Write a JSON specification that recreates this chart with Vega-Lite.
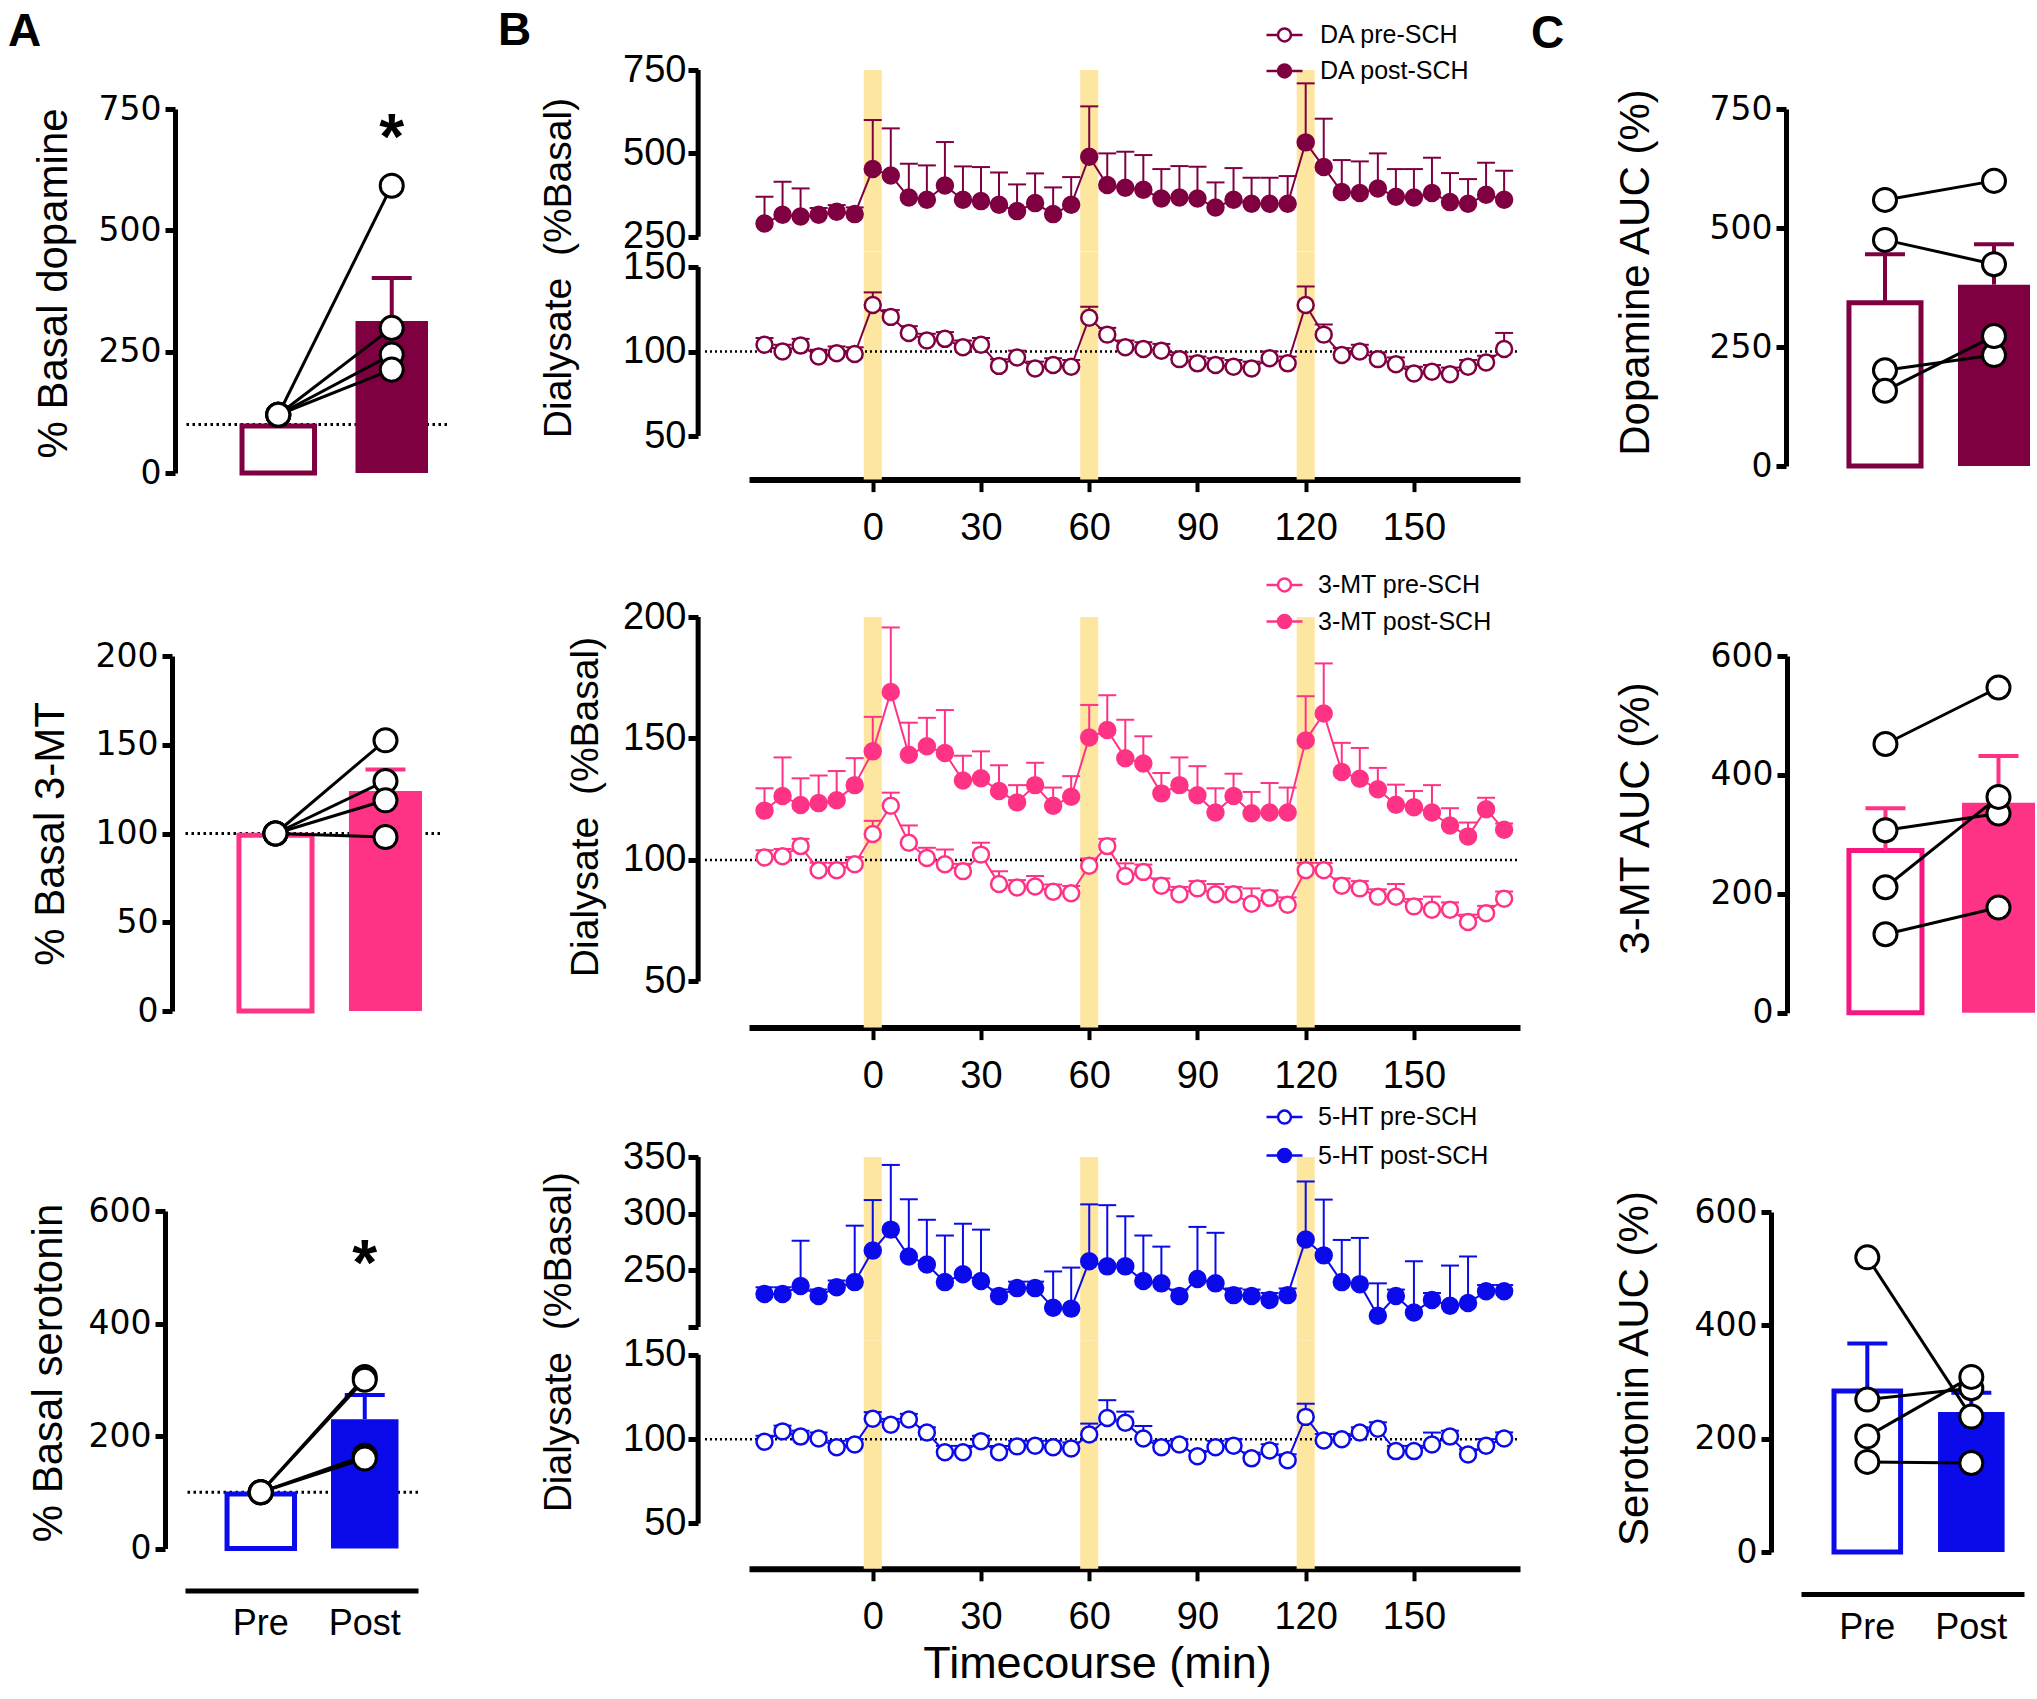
{
"$schema": "https://vega.github.io/schema/vega-lite/v6.json",
"background": "white",
"padding": {"left": 8, "top": 8, "right": 0, "bottom": 0},
"config": {"view": {"stroke": null}, "axis": {"grid": false}, "legend": {"symbolOpacity": 1}},
"datasets": {
"bands": [{"s": -2.5, "e": 2.5}, {"s": 57.5, "e": 62.5}, {"s": 117.5, "e": 122.5}],
"da_post": [
{"t":-30,"v":290,"e":370,"series":"DA post-SCH"},{"t":-25,"v":316,"e":415,"series":"DA post-SCH"},{"t":-20,"v":311,"e":395,"series":"DA post-SCH"},{"t":-15,"v":316,"e":336,"series":"DA post-SCH"},{"t":-10,"v":325,"e":345,"series":"DA post-SCH"},{"t":-5,"v":318,"e":338,"series":"DA post-SCH"},
{"t":0,"v":453,"e":600,"series":"DA post-SCH"},{"t":5,"v":434,"e":575,"series":"DA post-SCH"},{"t":10,"v":368,"e":469,"series":"DA post-SCH"},{"t":15,"v":361,"e":464,"series":"DA post-SCH"},{"t":20,"v":404,"e":534,"series":"DA post-SCH"},{"t":25,"v":361,"e":461,"series":"DA post-SCH"},
{"t":30,"v":357,"e":459,"series":"DA post-SCH"},{"t":35,"v":346,"e":443,"series":"DA post-SCH"},{"t":40,"v":327,"e":407,"series":"DA post-SCH"},{"t":45,"v":351,"e":440,"series":"DA post-SCH"},{"t":50,"v":318,"e":398,"series":"DA post-SCH"},{"t":55,"v":346,"e":429,"series":"DA post-SCH"},
{"t":60,"v":490,"e":641,"series":"DA post-SCH"},{"t":65,"v":405,"e":500,"series":"DA post-SCH"},{"t":70,"v":397,"e":505,"series":"DA post-SCH"},{"t":75,"v":391,"e":495,"series":"DA post-SCH"},{"t":80,"v":365,"e":453,"series":"DA post-SCH"},{"t":85,"v":368,"e":462,"series":"DA post-SCH"},
{"t":90,"v":365,"e":460,"series":"DA post-SCH"},{"t":95,"v":338,"e":413,"series":"DA post-SCH"},{"t":100,"v":361,"e":456,"series":"DA post-SCH"},{"t":105,"v":349,"e":427,"series":"DA post-SCH"},{"t":110,"v":349,"e":427,"series":"DA post-SCH"},{"t":115,"v":349,"e":432,"series":"DA post-SCH"},
{"t":120,"v":533,"e":710,"series":"DA post-SCH"},{"t":125,"v":459,"e":604,"series":"DA post-SCH"},{"t":130,"v":384,"e":480,"series":"DA post-SCH"},{"t":135,"v":381,"e":476,"series":"DA post-SCH"},{"t":140,"v":395,"e":500,"series":"DA post-SCH"},{"t":145,"v":370,"e":453,"series":"DA post-SCH"},
{"t":150,"v":368,"e":453,"series":"DA post-SCH"},{"t":155,"v":381,"e":487,"series":"DA post-SCH"},{"t":160,"v":354,"e":441,"series":"DA post-SCH"},{"t":165,"v":349,"e":423,"series":"DA post-SCH"},{"t":170,"v":376,"e":472,"series":"DA post-SCH"},{"t":175,"v":361,"e":448,"series":"DA post-SCH"}],
"da_pre": [
{"t":-30,"v":104,"e":108},{"t":-25,"v":100,"e":104},{"t":-20,"v":103.5,"e":107.5},{"t":-15,"v":97,"e":101},{"t":-10,"v":99,"e":103},{"t":-5,"v":98.5,"e":102.5},
{"t":0,"v":127.5,"e":135},{"t":5,"v":120.5,"e":124.5},{"t":10,"v":111,"e":115},{"t":15,"v":106.5,"e":110.5},{"t":20,"v":107.5,"e":111.5},{"t":25,"v":102.5,"e":106.5},
{"t":30,"v":104,"e":108},{"t":35,"v":91.5,"e":95.5},{"t":40,"v":96.5,"e":100.5},{"t":45,"v":90,"e":94},{"t":50,"v":92,"e":96},{"t":55,"v":91,"e":95},
{"t":60,"v":120,"e":126.5},{"t":65,"v":110,"e":114},{"t":70,"v":102.5,"e":106.5},{"t":75,"v":101.5,"e":105.5},{"t":80,"v":100.5,"e":104.5},{"t":85,"v":95.5,"e":99.5},
{"t":90,"v":93,"e":97},{"t":95,"v":92,"e":96},{"t":100,"v":91,"e":95},{"t":105,"v":90,"e":94},{"t":110,"v":96,"e":100},{"t":115,"v":93,"e":97},
{"t":120,"v":127.5,"e":138.5},{"t":125,"v":110,"e":116},{"t":130,"v":98,"e":102},{"t":135,"v":100,"e":104},{"t":140,"v":95.5,"e":99.5},{"t":145,"v":92.5,"e":96.5},
{"t":150,"v":87,"e":91},{"t":155,"v":88,"e":92},{"t":160,"v":86.5,"e":90.5},{"t":165,"v":91,"e":95},{"t":170,"v":93.5,"e":97.5},{"t":175,"v":101.5,"e":111}],
"mt_post": [
{"t":-30,"v":120.3,"e":129.5,"series":"3-MT post-SCH"},{"t":-25,"v":126.3,"e":142.2,"series":"3-MT post-SCH"},{"t":-20,"v":122.6,"e":133.6,"series":"3-MT post-SCH"},{"t":-15,"v":123.4,"e":134.8,"series":"3-MT post-SCH"},{"t":-10,"v":124.6,"e":136.6,"series":"3-MT post-SCH"},{"t":-5,"v":130.8,"e":141.9,"series":"3-MT post-SCH"},
{"t":0,"v":144.7,"e":158.9,"series":"3-MT post-SCH"},{"t":5,"v":169.1,"e":195.7,"series":"3-MT post-SCH"},{"t":10,"v":143.3,"e":156.5,"series":"3-MT post-SCH"},{"t":15,"v":146.8,"e":158.5,"series":"3-MT post-SCH"},{"t":20,"v":144,"e":161.7,"series":"3-MT post-SCH"},{"t":25,"v":132.7,"e":142.9,"series":"3-MT post-SCH"},
{"t":30,"v":133.6,"e":144.7,"series":"3-MT post-SCH"},{"t":35,"v":128.4,"e":139,"series":"3-MT post-SCH"},{"t":40,"v":123.7,"e":130.8,"series":"3-MT post-SCH"},{"t":45,"v":130.8,"e":140,"series":"3-MT post-SCH"},{"t":50,"v":122.3,"e":129.8,"series":"3-MT post-SCH"},{"t":55,"v":126,"e":134.5,"series":"3-MT post-SCH"},
{"t":60,"v":150.4,"e":163.8,"series":"3-MT post-SCH"},{"t":65,"v":153.5,"e":167.8,"series":"3-MT post-SCH"},{"t":70,"v":141.9,"e":157.7,"series":"3-MT post-SCH"},{"t":75,"v":139.7,"e":150.9,"series":"3-MT post-SCH"},{"t":80,"v":127.4,"e":135.8,"series":"3-MT post-SCH"},{"t":85,"v":130.8,"e":142.2,"series":"3-MT post-SCH"},
{"t":90,"v":126.6,"e":138.6,"series":"3-MT post-SCH"},{"t":95,"v":119.5,"e":129.5,"series":"3-MT post-SCH"},{"t":100,"v":126.3,"e":135.5,"series":"3-MT post-SCH"},{"t":105,"v":119.2,"e":128,"series":"3-MT post-SCH"},{"t":110,"v":119.5,"e":131.7,"series":"3-MT post-SCH"},{"t":115,"v":119.5,"e":129.8,"series":"3-MT post-SCH"},
{"t":120,"v":149.2,"e":167.4,"series":"3-MT post-SCH"},{"t":125,"v":160.3,"e":180.9,"series":"3-MT post-SCH"},{"t":130,"v":136.2,"e":148.2,"series":"3-MT post-SCH"},{"t":135,"v":133.4,"e":146.1,"series":"3-MT post-SCH"},{"t":140,"v":129.1,"e":137.9,"series":"3-MT post-SCH"},{"t":145,"v":122.7,"e":131,"series":"3-MT post-SCH"},
{"t":150,"v":121.7,"e":128.4,"series":"3-MT post-SCH"},{"t":155,"v":119.5,"e":130.8,"series":"3-MT post-SCH"},{"t":160,"v":114.2,"e":121.3,"series":"3-MT post-SCH"},{"t":165,"v":109.7,"e":115.4,"series":"3-MT post-SCH"},{"t":170,"v":120.9,"e":125.6,"series":"3-MT post-SCH"},{"t":175,"v":112.4,"e":115,"series":"3-MT post-SCH"}],
"mt_pre": [
{"t":-30,"v":101,"e":104,"series":"3-MT pre-SCH"},{"t":-25,"v":101.5,"e":104.5,"series":"3-MT pre-SCH"},{"t":-20,"v":105.7,"e":108.7,"series":"3-MT pre-SCH"},{"t":-15,"v":95.8,"e":98.8,"series":"3-MT pre-SCH"},{"t":-10,"v":95.8,"e":98.8,"series":"3-MT pre-SCH"},{"t":-5,"v":98.2,"e":101.2,"series":"3-MT pre-SCH"},
{"t":0,"v":110.7,"e":116.1,"series":"3-MT pre-SCH"},{"t":5,"v":122.3,"e":127.7,"series":"3-MT pre-SCH"},{"t":10,"v":107.1,"e":114.2,"series":"3-MT pre-SCH"},{"t":15,"v":100.8,"e":105,"series":"3-MT pre-SCH"},{"t":20,"v":98.2,"e":104.3,"series":"3-MT pre-SCH"},{"t":25,"v":95.4,"e":98.4,"series":"3-MT pre-SCH"},
{"t":30,"v":102.2,"e":107.1,"series":"3-MT pre-SCH"},{"t":35,"v":90.1,"e":95.4,"series":"3-MT pre-SCH"},{"t":40,"v":88.7,"e":91.7,"series":"3-MT pre-SCH"},{"t":45,"v":89.1,"e":93.4,"series":"3-MT pre-SCH"},{"t":50,"v":86.9,"e":89.9,"series":"3-MT pre-SCH"},{"t":55,"v":86.3,"e":89.3,"series":"3-MT pre-SCH"},
{"t":60,"v":97.6,"e":100.6,"series":"3-MT pre-SCH"},{"t":65,"v":105.7,"e":108.7,"series":"3-MT pre-SCH"},{"t":70,"v":93.4,"e":98.6,"series":"3-MT pre-SCH"},{"t":75,"v":95.1,"e":98.1,"series":"3-MT pre-SCH"},{"t":80,"v":89.4,"e":92.4,"series":"3-MT pre-SCH"},{"t":85,"v":85.9,"e":88.9,"series":"3-MT pre-SCH"},
{"t":90,"v":88.3,"e":91.3,"series":"3-MT pre-SCH"},{"t":95,"v":85.9,"e":90.1,"series":"3-MT pre-SCH"},{"t":100,"v":85.9,"e":88.9,"series":"3-MT pre-SCH"},{"t":105,"v":82,"e":88.3,"series":"3-MT pre-SCH"},{"t":110,"v":84.4,"e":87.4,"series":"3-MT pre-SCH"},{"t":115,"v":81.6,"e":84.6,"series":"3-MT pre-SCH"},
{"t":120,"v":95.8,"e":98.8,"series":"3-MT pre-SCH"},{"t":125,"v":95.8,"e":98.8,"series":"3-MT pre-SCH"},{"t":130,"v":89.4,"e":92.4,"series":"3-MT pre-SCH"},{"t":135,"v":88.3,"e":91.3,"series":"3-MT pre-SCH"},{"t":140,"v":84.9,"e":87.9,"series":"3-MT pre-SCH"},{"t":145,"v":84.9,"e":90.1,"series":"3-MT pre-SCH"},
{"t":150,"v":80.9,"e":83.9,"series":"3-MT pre-SCH"},{"t":155,"v":79.5,"e":84.9,"series":"3-MT pre-SCH"},{"t":160,"v":79.5,"e":82.5,"series":"3-MT pre-SCH"},{"t":165,"v":74.5,"e":77.5,"series":"3-MT pre-SCH"},{"t":170,"v":78.1,"e":81.1,"series":"3-MT pre-SCH"},{"t":175,"v":84,"e":87,"series":"3-MT pre-SCH"}],
"ht_post": [
{"t":-30,"v":229.1,"e":235,"series":"5-HT post-SCH"},{"t":-25,"v":229.1,"e":235,"series":"5-HT post-SCH"},{"t":-20,"v":236.1,"e":276.1,"series":"5-HT post-SCH"},{"t":-15,"v":227.4,"e":233,"series":"5-HT post-SCH"},{"t":-10,"v":235,"e":241,"series":"5-HT post-SCH"},{"t":-5,"v":239.6,"e":289.4,"series":"5-HT post-SCH"},
{"t":0,"v":267.4,"e":312,"series":"5-HT post-SCH"},{"t":5,"v":285.9,"e":343,"series":"5-HT post-SCH"},{"t":10,"v":262.2,"e":312.7,"series":"5-HT post-SCH"},{"t":15,"v":255.2,"e":294.6,"series":"5-HT post-SCH"},{"t":20,"v":239.6,"e":280.7,"series":"5-HT post-SCH"},{"t":25,"v":246.5,"e":291.1,"series":"5-HT post-SCH"},
{"t":30,"v":240.6,"e":285.9,"series":"5-HT post-SCH"},{"t":35,"v":227.4,"e":233,"series":"5-HT post-SCH"},{"t":40,"v":234.3,"e":240,"series":"5-HT post-SCH"},{"t":45,"v":234.3,"e":240,"series":"5-HT post-SCH"},{"t":50,"v":216.9,"e":249,"series":"5-HT post-SCH"},{"t":55,"v":216.2,"e":252.4,"series":"5-HT post-SCH"},
{"t":60,"v":258,"e":308.2,"series":"5-HT post-SCH"},{"t":65,"v":253.5,"e":307.5,"series":"5-HT post-SCH"},{"t":70,"v":253.5,"e":297.7,"series":"5-HT post-SCH"},{"t":75,"v":240.6,"e":280.7,"series":"5-HT post-SCH"},{"t":80,"v":238.5,"e":270.9,"series":"5-HT post-SCH"},{"t":85,"v":227.4,"e":233,"series":"5-HT post-SCH"},
{"t":90,"v":242.3,"e":288.3,"series":"5-HT post-SCH"},{"t":95,"v":238.5,"e":283.1,"series":"5-HT post-SCH"},{"t":100,"v":228.1,"e":234,"series":"5-HT post-SCH"},{"t":105,"v":227.4,"e":233,"series":"5-HT post-SCH"},{"t":110,"v":223.9,"e":230,"series":"5-HT post-SCH"},{"t":115,"v":228.1,"e":234,"series":"5-HT post-SCH"},
{"t":120,"v":277.2,"e":328.4,"series":"5-HT post-SCH"},{"t":125,"v":263.2,"e":312.4,"series":"5-HT post-SCH"},{"t":130,"v":239.6,"e":276.8,"series":"5-HT post-SCH"},{"t":135,"v":237.8,"e":278.6,"series":"5-HT post-SCH"},{"t":140,"v":209.9,"e":238.5,"series":"5-HT post-SCH"},{"t":145,"v":227.4,"e":233,"series":"5-HT post-SCH"},
{"t":150,"v":212.7,"e":258,"series":"5-HT post-SCH"},{"t":155,"v":223.9,"e":230,"series":"5-HT post-SCH"},{"t":160,"v":218.7,"e":254.2,"series":"5-HT post-SCH"},{"t":165,"v":221.1,"e":262.2,"series":"5-HT post-SCH"},{"t":170,"v":231.5,"e":237,"series":"5-HT post-SCH"},{"t":175,"v":231.5,"e":237,"series":"5-HT post-SCH"}],
"ht_pre": [
{"t":-30,"v":98.5,"e":102},{"t":-25,"v":104.6,"e":108},{"t":-20,"v":101.5,"e":105},{"t":-15,"v":100.4,"e":104},{"t":-10,"v":95.2,"e":99},{"t":-5,"v":96.8,"e":100},
{"t":0,"v":112.1,"e":116},{"t":5,"v":108.5,"e":112},{"t":10,"v":111.6,"e":115},{"t":15,"v":103.9,"e":107},{"t":20,"v":92.2,"e":96},{"t":25,"v":92.2,"e":96},
{"t":30,"v":98.7,"e":102},{"t":35,"v":92.2,"e":96},{"t":40,"v":95.7,"e":99},{"t":45,"v":96.1,"e":99},{"t":50,"v":95.2,"e":99},{"t":55,"v":94.5,"e":98},
{"t":60,"v":102.7,"e":109.2},{"t":65,"v":112.5,"e":123.1},{"t":70,"v":109.7,"e":116.3},{"t":75,"v":100.4,"e":107.8},{"t":80,"v":95.2,"e":99},{"t":85,"v":96.8,"e":100},
{"t":90,"v":89.8,"e":93},{"t":95,"v":95.2,"e":99},{"t":100,"v":96.1,"e":100},{"t":105,"v":88.6,"e":92},{"t":110,"v":93.3,"e":97},{"t":115,"v":87.5,"e":91},
{"t":120,"v":113.2,"e":121},{"t":125,"v":99.2,"e":103},{"t":130,"v":99.9,"e":103},{"t":135,"v":103.9,"e":107},{"t":140,"v":106.2,"e":110},{"t":145,"v":92.9,"e":96},
{"t":150,"v":92.9,"e":96},{"t":155,"v":96.8,"e":103.9},{"t":160,"v":101.5,"e":105},{"t":165,"v":90.9,"e":94},{"t":170,"v":96.1,"e":100},{"t":175,"v":100.4,"e":104}]
},
"hconcat": [
{"hconcat": [
{"vconcat": [
{"width": 1, "height": 38.4, "data": {"values": [{}]}, "mark": {"type": "text", "text": ""}, "encoding": {}},
{"width": 262, "height": 364,
"title": {"text": "A", "anchor": "start", "frame": "group", "font": "Liberation Sans", "fontSize": 46, "fontWeight": "bold", "color": "black", "baseline": "alphabetic", "offset": 0.8, "dx": -177},
"layer": [
{"data": {"values": [{}]}, "mark": {"type": "rule", "color": "black", "strokeWidth": 3, "strokeDash": [2.5, 3.5]}, "encoding": {"y": {"datum": 100, "type": "quantitative", "scale": {"domain": [0, 750], "nice": false}}}},
{"data": {"values": [{"cond": "Pre", "v": 97}]}, "mark": {"type": "bar", "fill": "white", "stroke": "#7F0041", "strokeWidth": 5}, "encoding": {"x": {"field": "cond", "type": "nominal", "scale": {"type": "band", "domain": ["Pre", "Post"], "paddingInner": 0.361, "paddingOuter": 0.335, "align": 0.75}, "axis": null}, "y": {"field": "v", "type": "quantitative", "scale": {"domain": [0, 750], "nice": false}, "axis": {"values": [0, 250, 500, 750], "offset": 10, "domainWidth": 5, "domainColor": "black", "tickSize": 10, "tickWidth": 5, "tickColor": "black", "labelFont": "DejaVu Sans", "labelFontSize": 33, "labelColor": "black", "labelPadding": 4, "title": "% Basal dopamine", "titleFont": "Liberation Sans", "titleFontSize": 42, "titleFontWeight": "normal", "titleColor": "black", "titlePadding": 23, "titleY": 174}}}},
{"data": {"values": [{"cond": "Post", "v": 313}]}, "mark": {"type": "bar", "fill": "#7F0041"}, "encoding": {"x": {"field": "cond", "type": "nominal", "scale": {"type": "band", "domain": ["Pre", "Post"], "paddingInner": 0.361, "paddingOuter": 0.335, "align": 0.75}, "axis": null}, "y": {"field": "v", "type": "quantitative", "scale": {"domain": [0, 750], "nice": false}}}},
{"data": {"values": [{"cond": "Post", "v": 313, "e": 402}]}, "mark": {"type": "rule", "color": "#7F0041", "strokeWidth": 4}, "encoding": {"x": {"field": "cond", "type": "nominal", "scale": {"type": "band", "domain": ["Pre", "Post"], "paddingInner": 0.361, "paddingOuter": 0.335, "align": 0.75}, "axis": null}, "y": {"field": "v", "type": "quantitative", "scale": {"domain": [0, 750], "nice": false}}, "y2": {"field": "e"}}},
{"data": {"values": [{"cond": "Post", "e": 402}]}, "mark": {"type": "tick", "orient": "horizontal", "size": 40, "thickness": 4, "color": "#7F0041", "opacity": 1}, "encoding": {"x": {"field": "cond", "type": "nominal", "scale": {"type": "band", "domain": ["Pre", "Post"], "paddingInner": 0.361, "paddingOuter": 0.335, "align": 0.75}, "axis": null}, "y": {"field": "e", "type": "quantitative", "scale": {"domain": [0, 750], "nice": false}}}},
{"data": {"values": [{"id": 1, "cond": "Pre", "v": 120}, {"id": 1, "cond": "Post", "v": 592}, {"id": 2, "cond": "Pre", "v": 120}, {"id": 2, "cond": "Post", "v": 299}, {"id": 3, "cond": "Pre", "v": 120}, {"id": 3, "cond": "Post", "v": 244}, {"id": 4, "cond": "Pre", "v": 120}, {"id": 4, "cond": "Post", "v": 213}]}, "mark": {"type": "line", "color": "black", "strokeWidth": 3}, "encoding": {"x": {"field": "cond", "type": "nominal", "scale": {"type": "band", "domain": ["Pre", "Post"], "paddingInner": 0.361, "paddingOuter": 0.335, "align": 0.75}, "axis": null}, "y": {"field": "v", "type": "quantitative", "scale": {"domain": [0, 750], "nice": false}}, "detail": {"field": "id", "type": "nominal"}}},
{"data": {"values": [{"id": 1, "cond": "Pre", "v": 120}, {"id": 1, "cond": "Post", "v": 592}, {"id": 2, "cond": "Pre", "v": 120}, {"id": 2, "cond": "Post", "v": 299}, {"id": 3, "cond": "Pre", "v": 120}, {"id": 3, "cond": "Post", "v": 244}, {"id": 4, "cond": "Pre", "v": 120}, {"id": 4, "cond": "Post", "v": 213}]}, "mark": {"type": "point", "filled": true, "fill": "white", "stroke": "black", "strokeWidth": 3, "size": 530, "opacity": 1}, "encoding": {"x": {"field": "cond", "type": "nominal", "scale": {"type": "band", "domain": ["Pre", "Post"], "paddingInner": 0.361, "paddingOuter": 0.335, "align": 0.75}, "axis": null}, "y": {"field": "v", "type": "quantitative", "scale": {"domain": [0, 750], "nice": false}}}},
{"data": {"values": [{"cond": "Post", "v": 646, "s": "*"}]}, "mark": {"type": "text", "font": "Liberation Sans", "fontSize": 64, "fontWeight": "bold", "baseline": "alphabetic", "align": "center", "color": "black"}, "encoding": {"x": {"field": "cond", "type": "nominal", "scale": {"type": "band", "domain": ["Pre", "Post"], "paddingInner": 0.361, "paddingOuter": 0.335, "align": 0.75}, "axis": null}, "y": {"field": "v", "type": "quantitative", "scale": {"domain": [0, 750], "nice": false}}, "text": {"field": "s"}}}
]},
{"width": 1, "height": 183, "data": {"values": [{}]}, "mark": {"type": "text", "text": ""}, "encoding": {}},
{"width": 255, "height": 355,
"layer": [
{"data": {"values": [{}]}, "mark": {"type": "rule", "color": "black", "strokeWidth": 3, "strokeDash": [2.5, 3.5]}, "encoding": {"y": {"datum": 100, "type": "quantitative", "scale": {"domain": [0, 200], "nice": false}}}},
{"data": {"values": [{"cond": "Pre", "v": 99}]}, "mark": {"type": "bar", "fill": "white", "stroke": "#FF3385", "strokeWidth": 5}, "encoding": {"x": {"field": "cond", "type": "nominal", "scale": {"type": "band", "domain": ["Pre", "Post"], "paddingInner": 0.336, "paddingOuter": 0.327, "align": 0.75}, "axis": null}, "y": {"field": "v", "type": "quantitative", "scale": {"domain": [0, 200], "nice": false}, "axis": {"values": [0, 50, 100, 150, 200], "offset": 13, "domainWidth": 5, "domainColor": "black", "tickSize": 10, "tickWidth": 5, "tickColor": "black", "labelFont": "DejaVu Sans", "labelFontSize": 33, "labelColor": "black", "labelPadding": 4, "title": "% Basal 3-MT", "titleFont": "Liberation Sans", "titleFontSize": 42, "titleFontWeight": "normal", "titleColor": "black", "titlePadding": 23}}}},
{"data": {"values": [{"cond": "Post", "v": 124}]}, "mark": {"type": "bar", "fill": "#FF3385"}, "encoding": {"x": {"field": "cond", "type": "nominal", "scale": {"type": "band", "domain": ["Pre", "Post"], "paddingInner": 0.336, "paddingOuter": 0.327, "align": 0.75}, "axis": null}, "y": {"field": "v", "type": "quantitative", "scale": {"domain": [0, 200], "nice": false}}}},
{"data": {"values": [{"cond": "Post", "v": 124, "e": 136}]}, "mark": {"type": "rule", "color": "#FF3385", "strokeWidth": 4}, "encoding": {"x": {"field": "cond", "type": "nominal", "scale": {"type": "band", "domain": ["Pre", "Post"], "paddingInner": 0.336, "paddingOuter": 0.327, "align": 0.75}, "axis": null}, "y": {"field": "v", "type": "quantitative", "scale": {"domain": [0, 200], "nice": false}}, "y2": {"field": "e"}}},
{"data": {"values": [{"cond": "Post", "e": 136}]}, "mark": {"type": "tick", "orient": "horizontal", "size": 40, "thickness": 4, "color": "#FF3385", "opacity": 1}, "encoding": {"x": {"field": "cond", "type": "nominal", "scale": {"type": "band", "domain": ["Pre", "Post"], "paddingInner": 0.336, "paddingOuter": 0.327, "align": 0.75}, "axis": null}, "y": {"field": "e", "type": "quantitative", "scale": {"domain": [0, 200], "nice": false}}}},
{"data": {"values": [{"id": 1, "cond": "Pre", "v": 100}, {"id": 1, "cond": "Post", "v": 152.5}, {"id": 2, "cond": "Pre", "v": 100}, {"id": 2, "cond": "Post", "v": 129.6}, {"id": 3, "cond": "Pre", "v": 100}, {"id": 3, "cond": "Post", "v": 118.7}, {"id": 4, "cond": "Pre", "v": 100}, {"id": 4, "cond": "Post", "v": 98}]}, "mark": {"type": "line", "color": "black", "strokeWidth": 3}, "encoding": {"x": {"field": "cond", "type": "nominal", "scale": {"type": "band", "domain": ["Pre", "Post"], "paddingInner": 0.336, "paddingOuter": 0.327, "align": 0.75}, "axis": null}, "y": {"field": "v", "type": "quantitative", "scale": {"domain": [0, 200], "nice": false}}, "detail": {"field": "id", "type": "nominal"}}},
{"data": {"values": [{"id": 1, "cond": "Pre", "v": 100}, {"id": 1, "cond": "Post", "v": 152.5}, {"id": 2, "cond": "Pre", "v": 100}, {"id": 2, "cond": "Post", "v": 129.6}, {"id": 3, "cond": "Pre", "v": 100}, {"id": 3, "cond": "Post", "v": 118.7}, {"id": 4, "cond": "Pre", "v": 100}, {"id": 4, "cond": "Post", "v": 98}]}, "mark": {"type": "point", "filled": true, "fill": "white", "stroke": "black", "strokeWidth": 3, "size": 530, "opacity": 1}, "encoding": {"x": {"field": "cond", "type": "nominal", "scale": {"type": "band", "domain": ["Pre", "Post"], "paddingInner": 0.336, "paddingOuter": 0.327, "align": 0.75}, "axis": null}, "y": {"field": "v", "type": "quantitative", "scale": {"domain": [0, 200], "nice": false}}}}
]},
{"width": 1, "height": 199.5, "data": {"values": [{}]}, "mark": {"type": "text", "text": ""}, "encoding": {}},
{"width": 233, "height": 337.5,
"layer": [
{"data": {"values": [{}]}, "mark": {"type": "rule", "color": "black", "strokeWidth": 3, "strokeDash": [2.5, 3.5]}, "encoding": {"y": {"datum": 100, "type": "quantitative", "scale": {"domain": [0, 600], "nice": false}}}},
{"data": {"values": [{"cond": "Pre", "v": 97}]}, "mark": {"type": "bar", "fill": "white", "stroke": "#0A0AEB", "strokeWidth": 5}, "encoding": {"x": {"field": "cond", "type": "nominal", "scale": {"type": "band", "domain": ["Pre", "Post"], "paddingInner": 0.351, "paddingOuter": 0.296, "align": 0.683}, "axis": {"domainWidth": 5, "domainColor": "black", "ticks": false, "tickSize": 0, "labelFont": "Liberation Sans", "labelFontSize": 36, "labelColor": "black", "labelPadding": 16, "labelAngle": 0, "offset": 42, "title": null}}, "y": {"field": "v", "type": "quantitative", "scale": {"domain": [0, 600], "nice": false}, "axis": {"values": [0, 200, 400, 600], "offset": 20, "domainWidth": 5, "domainColor": "black", "tickSize": 10, "tickWidth": 5, "tickColor": "black", "labelFont": "DejaVu Sans", "labelFontSize": 33, "labelColor": "black", "labelPadding": 4, "title": "% Basal serotonin", "titleFont": "Liberation Sans", "titleFontSize": 42, "titleFontWeight": "normal", "titleColor": "black", "titlePadding": 18, "titleY": 161.5}}}},
{"data": {"values": [{"cond": "Post", "v": 230}]}, "mark": {"type": "bar", "fill": "#0A0AEB"}, "encoding": {"x": {"field": "cond", "type": "nominal", "scale": {"type": "band", "domain": ["Pre", "Post"], "paddingInner": 0.351, "paddingOuter": 0.296, "align": 0.683}}, "y": {"field": "v", "type": "quantitative", "scale": {"domain": [0, 600], "nice": false}}}},
{"data": {"values": [{"cond": "Post", "v": 230, "e": 273}]}, "mark": {"type": "rule", "color": "#0A0AEB", "strokeWidth": 4}, "encoding": {"x": {"field": "cond", "type": "nominal", "scale": {"type": "band", "domain": ["Pre", "Post"], "paddingInner": 0.351, "paddingOuter": 0.296, "align": 0.683}}, "y": {"field": "v", "type": "quantitative", "scale": {"domain": [0, 600], "nice": false}}, "y2": {"field": "e"}}},
{"data": {"values": [{"cond": "Post", "e": 273}]}, "mark": {"type": "tick", "orient": "horizontal", "size": 40, "thickness": 4, "color": "#0A0AEB", "opacity": 1}, "encoding": {"x": {"field": "cond", "type": "nominal", "scale": {"type": "band", "domain": ["Pre", "Post"], "paddingInner": 0.351, "paddingOuter": 0.296, "align": 0.683}}, "y": {"field": "e", "type": "quantitative", "scale": {"domain": [0, 600], "nice": false}}}},
{"data": {"values": [{"id": 1, "cond": "Pre", "v": 100}, {"id": 1, "cond": "Post", "v": 305}, {"id": 2, "cond": "Pre", "v": 100}, {"id": 2, "cond": "Post", "v": 300}, {"id": 3, "cond": "Pre", "v": 100}, {"id": 3, "cond": "Post", "v": 165}, {"id": 4, "cond": "Pre", "v": 100}, {"id": 4, "cond": "Post", "v": 160}]}, "mark": {"type": "line", "color": "black", "strokeWidth": 3}, "encoding": {"x": {"field": "cond", "type": "nominal", "scale": {"type": "band", "domain": ["Pre", "Post"], "paddingInner": 0.351, "paddingOuter": 0.296, "align": 0.683}}, "y": {"field": "v", "type": "quantitative", "scale": {"domain": [0, 600], "nice": false}}, "detail": {"field": "id", "type": "nominal"}}},
{"data": {"values": [{"id": 1, "cond": "Pre", "v": 100}, {"id": 1, "cond": "Post", "v": 305}, {"id": 2, "cond": "Pre", "v": 100}, {"id": 2, "cond": "Post", "v": 300}, {"id": 3, "cond": "Pre", "v": 100}, {"id": 3, "cond": "Post", "v": 165}, {"id": 4, "cond": "Pre", "v": 100}, {"id": 4, "cond": "Post", "v": 160}]}, "mark": {"type": "point", "filled": true, "fill": "white", "stroke": "black", "strokeWidth": 3, "size": 530, "opacity": 1}, "encoding": {"x": {"field": "cond", "type": "nominal", "scale": {"type": "band", "domain": ["Pre", "Post"], "paddingInner": 0.351, "paddingOuter": 0.296, "align": 0.683}}, "y": {"field": "v", "type": "quantitative", "scale": {"domain": [0, 600], "nice": false}}}},
{"data": {"values": [{"cond": "Post", "v": 469, "s": "*"}]}, "mark": {"type": "text", "font": "Liberation Sans", "fontSize": 64, "fontWeight": "bold", "baseline": "alphabetic", "align": "center", "color": "black"}, "encoding": {"x": {"field": "cond", "type": "nominal", "scale": {"type": "band", "domain": ["Pre", "Post"], "paddingInner": 0.351, "paddingOuter": 0.296, "align": 0.683}}, "y": {"field": "v", "type": "quantitative", "scale": {"domain": [0, 600], "nice": false}}, "text": {"field": "s"}}}
]}
], "spacing": 0, "bounds": "flush"},
{"vconcat": [
{"width": 771, "height": 181.4,
"title": {"text": "B", "anchor": "start", "frame": "group", "font": "Liberation Sans", "fontSize": 46, "fontWeight": "bold", "color": "black", "baseline": "alphabetic", "offset": -75.9, "dx": -251},
"layer": [
{"data": {"name": "bands"}, "mark": {"type": "rect", "color": "#FDE6A0"}, "encoding": {"x": {"field": "s", "type": "quantitative", "scale": {"domain": [-34.3, 179.4], "nice": false, "zero": false}, "axis": null}, "x2": {"field": "e"}}},
{"data": {"values": [{}]}, "mark": {"type": "rule", "color": "black", "strokeWidth": 5}, "encoding": {"x": {"datum": -48.4, "type": "quantitative", "scale": {"domain": [-34.3, 179.4], "nice": false, "zero": false}, "axis": null}, "y": {"datum": 250, "type": "quantitative", "scale": {"domain": [206.2, 750], "nice": false, "zero": false}}, "y2": {"datum": 750}}},
{"data": {"name": "da_post"}, "mark": {"type": "rule", "color": "#7F0041", "strokeWidth": 2}, "encoding": {"x": {"field": "t", "type": "quantitative", "scale": {"domain": [-34.3, 179.4], "nice": false, "zero": false}, "axis": null}, "y": {"field": "v", "type": "quantitative", "scale": {"domain": [206.2, 750], "nice": false, "zero": false}, "axis": {"values": [250, 500, 750], "domain": false, "offset": 51, "tickSize": 10, "tickWidth": 5, "tickColor": "black", "labelFont": "Liberation Sans", "labelFontSize": 38, "labelColor": "black", "labelPadding": 2, "labelOverlap": false, "title": null}}, "y2": {"field": "e"}}},
{"data": {"name": "da_post"}, "mark": {"type": "tick", "orient": "horizontal", "size": 18, "thickness": 2, "color": "#7F0041", "opacity": 1}, "encoding": {"x": {"field": "t", "type": "quantitative", "scale": {"domain": [-34.3, 179.4], "nice": false, "zero": false}, "axis": null}, "y": {"field": "e", "type": "quantitative", "scale": {"domain": [206.2, 750], "nice": false, "zero": false}}}},
{"data": {"name": "da_post"}, "mark": {"type": "line", "color": "#7F0041", "strokeWidth": 2}, "encoding": {"x": {"field": "t", "type": "quantitative", "scale": {"domain": [-34.3, 179.4], "nice": false, "zero": false}, "axis": null}, "y": {"field": "v", "type": "quantitative", "scale": {"domain": [206.2, 750], "nice": false, "zero": false}}}},
{"data": {"name": "da_post"}, "mark": {"type": "point", "filled": true, "stroke": "#7F0041", "strokeWidth": 2.5, "size": 255, "opacity": 1}, "encoding": {"x": {"field": "t", "type": "quantitative", "scale": {"domain": [-34.3, 179.4], "nice": false, "zero": false}, "axis": null}, "y": {"field": "v", "type": "quantitative", "scale": {"domain": [206.2, 750], "nice": false, "zero": false}}, "fill": {"field": "series", "type": "nominal", "scale": {"domain": ["DA pre-SCH", "DA post-SCH"], "range": ["white", "#7F0041"]}, "legend": {"title": null, "orient": "none", "legendX": 516, "legendY": -54.6, "symbolType": "M-1,0L-0.36,0M0.36,0L1,0M0.36,0A0.36,0.36,0,1,1,-0.36,0A0.36,0.36,0,1,1,0.36,0", "symbolSize": 1296, "symbolStrokeColor": "#7F0041", "symbolStrokeWidth": 2.5, "labelFont": "Liberation Sans", "labelFontSize": 25, "labelColor": "black", "labelOffset": 16, "labelLimit": 400, "rowPadding": 3, "padding": 0}}}}
]},
{"width": 771, "height": 227.6,
"layer": [
{"data": {"name": "bands"}, "mark": {"type": "rect", "color": "#FDE6A0"}, "encoding": {"x": {"field": "s", "type": "quantitative", "scale": {"domain": [-34.3, 179.4], "nice": false, "zero": false}}, "x2": {"field": "e"}}},
{"data": {"values": [{}]}, "mark": {"type": "rule", "color": "black", "strokeWidth": 2.5, "strokeDash": [2, 3]}, "encoding": {"x": {"datum": -46.5, "type": "quantitative", "scale": {"domain": [-34.3, 179.4], "nice": false, "zero": false}}, "x2": {"datum": 179.4}, "y": {"datum": 100, "type": "quantitative", "scale": {"domain": [24.2, 158.9], "nice": false, "zero": false}}}},
{"data": {"values": [{}]}, "mark": {"type": "rule", "color": "black", "strokeWidth": 5}, "encoding": {"x": {"datum": -48.4, "type": "quantitative", "scale": {"domain": [-34.3, 179.4], "nice": false, "zero": false}}, "y": {"datum": 50, "type": "quantitative", "scale": {"domain": [24.2, 158.9], "nice": false, "zero": false}}, "y2": {"datum": 150}}},
{"data": {"name": "da_pre"}, "mark": {"type": "rule", "color": "#7F0041", "strokeWidth": 2}, "encoding": {"x": {"field": "t", "type": "quantitative", "scale": {"domain": [-34.3, 179.4], "nice": false, "zero": false}, "axis": {"values": [0, 30, 60, 90, 120, 150], "domainWidth": 6, "domainColor": "black", "tickSize": 12, "tickWidth": 4, "tickColor": "black", "labelFont": "Liberation Sans", "labelFontSize": 38, "labelColor": "black", "labelPadding": 18, "labelFlush": false, "labelOverlap": false, "labelAngle": 0, "title": null}}, "y": {"field": "v", "type": "quantitative", "scale": {"domain": [24.2, 158.9], "nice": false, "zero": false}, "axis": {"values": [50, 100, 150], "domain": false, "offset": 51, "tickSize": 10, "tickWidth": 5, "tickColor": "black", "labelFont": "Liberation Sans", "labelFontSize": 38, "labelColor": "black", "labelPadding": 2, "labelOverlap": false, "title": "Dialysate \u00a0(%Basal)", "titleFont": "Liberation Sans", "titleFontSize": 39, "titleFontWeight": "normal", "titleColor": "black", "titlePadding": 44, "titleY": 15.5}}, "y2": {"field": "e"}}},
{"data": {"name": "da_pre"}, "mark": {"type": "tick", "orient": "horizontal", "size": 18, "thickness": 2, "color": "#7F0041", "opacity": 1}, "encoding": {"x": {"field": "t", "type": "quantitative", "scale": {"domain": [-34.3, 179.4], "nice": false, "zero": false}}, "y": {"field": "e", "type": "quantitative", "scale": {"domain": [24.2, 158.9], "nice": false, "zero": false}}}},
{"data": {"name": "da_pre"}, "mark": {"type": "line", "color": "#7F0041", "strokeWidth": 2}, "encoding": {"x": {"field": "t", "type": "quantitative", "scale": {"domain": [-34.3, 179.4], "nice": false, "zero": false}}, "y": {"field": "v", "type": "quantitative", "scale": {"domain": [24.2, 158.9], "nice": false, "zero": false}}}},
{"data": {"name": "da_pre"}, "mark": {"type": "point", "filled": true, "fill": "white", "stroke": "#7F0041", "strokeWidth": 2.5, "size": 255, "opacity": 1}, "encoding": {"x": {"field": "t", "type": "quantitative", "scale": {"domain": [-34.3, 179.4], "nice": false, "zero": false}}, "y": {"field": "v", "type": "quantitative", "scale": {"domain": [24.2, 158.9], "nice": false, "zero": false}}}}
]},
{"width": 1, "height": 136.4, "data": {"values": [{}]}, "mark": {"type": "text", "text": ""}, "encoding": {}},
{"width": 771, "height": 410.6,
"layer": [
{"data": {"name": "bands"}, "mark": {"type": "rect", "color": "#FDE6A0"}, "encoding": {"x": {"field": "s", "type": "quantitative", "scale": {"domain": [-34.3, 179.4], "nice": false, "zero": false}}, "x2": {"field": "e"}}},
{"data": {"values": [{}]}, "mark": {"type": "rule", "color": "black", "strokeWidth": 2.5, "strokeDash": [2, 3]}, "encoding": {"x": {"datum": -46.5, "type": "quantitative", "scale": {"domain": [-34.3, 179.4], "nice": false, "zero": false}}, "x2": {"datum": 179.4}, "y": {"datum": 100, "type": "quantitative", "scale": {"domain": [31, 200], "nice": false, "zero": false}}}},
{"data": {"values": [{}]}, "mark": {"type": "rule", "color": "black", "strokeWidth": 5}, "encoding": {"x": {"datum": -48.4, "type": "quantitative", "scale": {"domain": [-34.3, 179.4], "nice": false, "zero": false}}, "y": {"datum": 50, "type": "quantitative", "scale": {"domain": [31, 200], "nice": false, "zero": false}}, "y2": {"datum": 200}}},
{"data": {"name": "mt_pre"}, "mark": {"type": "rule", "color": "#FF3385", "strokeWidth": 2}, "encoding": {"x": {"field": "t", "type": "quantitative", "scale": {"domain": [-34.3, 179.4], "nice": false, "zero": false}}, "y": {"field": "v", "type": "quantitative", "scale": {"domain": [31, 200], "nice": false, "zero": false}}, "y2": {"field": "e"}}},
{"data": {"name": "mt_pre"}, "mark": {"type": "tick", "orient": "horizontal", "size": 18, "thickness": 2, "color": "#FF3385", "opacity": 1}, "encoding": {"x": {"field": "t", "type": "quantitative", "scale": {"domain": [-34.3, 179.4], "nice": false, "zero": false}}, "y": {"field": "e", "type": "quantitative", "scale": {"domain": [31, 200], "nice": false, "zero": false}}}},
{"data": {"name": "mt_post"}, "mark": {"type": "rule", "color": "#FF3385", "strokeWidth": 2}, "encoding": {"x": {"field": "t", "type": "quantitative", "scale": {"domain": [-34.3, 179.4], "nice": false, "zero": false}, "axis": {"values": [0, 30, 60, 90, 120, 150], "domainWidth": 6, "domainColor": "black", "tickSize": 12, "tickWidth": 4, "tickColor": "black", "labelFont": "Liberation Sans", "labelFontSize": 38, "labelColor": "black", "labelPadding": 18, "labelFlush": false, "labelOverlap": false, "labelAngle": 0, "title": null}}, "y": {"field": "v", "type": "quantitative", "scale": {"domain": [31, 200], "nice": false, "zero": false}, "axis": {"values": [50, 100, 150, 200], "domain": false, "offset": 51, "tickSize": 10, "tickWidth": 5, "tickColor": "black", "labelFont": "Liberation Sans", "labelFontSize": 38, "labelColor": "black", "labelPadding": 2, "labelOverlap": false, "title": "Dialysate \u00a0(%Basal)", "titleFont": "Liberation Sans", "titleFontSize": 39, "titleFontWeight": "normal", "titleColor": "black", "titlePadding": 17, "titleY": 189.5}}, "y2": {"field": "e"}}},
{"data": {"name": "mt_post"}, "mark": {"type": "tick", "orient": "horizontal", "size": 18, "thickness": 2, "color": "#FF3385", "opacity": 1}, "encoding": {"x": {"field": "t", "type": "quantitative", "scale": {"domain": [-34.3, 179.4], "nice": false, "zero": false}}, "y": {"field": "e", "type": "quantitative", "scale": {"domain": [31, 200], "nice": false, "zero": false}}}},
{"data": {"name": "mt_pre"}, "mark": {"type": "line", "color": "#FF3385", "strokeWidth": 2}, "encoding": {"x": {"field": "t", "type": "quantitative", "scale": {"domain": [-34.3, 179.4], "nice": false, "zero": false}}, "y": {"field": "v", "type": "quantitative", "scale": {"domain": [31, 200], "nice": false, "zero": false}}}},
{"data": {"name": "mt_post"}, "mark": {"type": "line", "color": "#FF3385", "strokeWidth": 2}, "encoding": {"x": {"field": "t", "type": "quantitative", "scale": {"domain": [-34.3, 179.4], "nice": false, "zero": false}}, "y": {"field": "v", "type": "quantitative", "scale": {"domain": [31, 200], "nice": false, "zero": false}}}},
{"data": {"name": "mt_pre"}, "mark": {"type": "point", "filled": true, "stroke": "#FF3385", "strokeWidth": 2.5, "size": 255, "opacity": 1}, "encoding": {"x": {"field": "t", "type": "quantitative", "scale": {"domain": [-34.3, 179.4], "nice": false, "zero": false}}, "y": {"field": "v", "type": "quantitative", "scale": {"domain": [31, 200], "nice": false, "zero": false}}, "fill": {"field": "series", "type": "nominal", "scale": {"domain": ["3-MT pre-SCH", "3-MT post-SCH"], "range": ["white", "#FF3385"]}, "legend": {"title": null, "orient": "none", "legendX": 516, "legendY": -51.6, "symbolType": "M-1,0L-0.36,0M0.36,0L1,0M0.36,0A0.36,0.36,0,1,1,-0.36,0A0.36,0.36,0,1,1,0.36,0", "symbolSize": 1296, "symbolStrokeColor": "#FF3385", "symbolStrokeWidth": 2.5, "labelFont": "Liberation Sans", "labelFontSize": 25, "labelColor": "black", "labelOffset": 14, "labelLimit": 400, "rowPadding": 3.6, "padding": 0}}}},
{"data": {"name": "mt_post"}, "mark": {"type": "point", "filled": true, "stroke": "#FF3385", "strokeWidth": 2.5, "size": 255, "opacity": 1}, "encoding": {"x": {"field": "t", "type": "quantitative", "scale": {"domain": [-34.3, 179.4], "nice": false, "zero": false}}, "y": {"field": "v", "type": "quantitative", "scale": {"domain": [31, 200], "nice": false, "zero": false}}, "fill": {"field": "series", "type": "nominal", "scale": {"domain": ["3-MT pre-SCH", "3-MT post-SCH"], "range": ["white", "#FF3385"]}, "legend": {"title": null, "orient": "none", "legendX": 516, "legendY": -51.6, "symbolType": "M-1,0L-0.36,0M0.36,0L1,0M0.36,0A0.36,0.36,0,1,1,-0.36,0A0.36,0.36,0,1,1,0.36,0", "symbolSize": 1296, "symbolStrokeColor": "#FF3385", "symbolStrokeWidth": 2.5, "labelFont": "Liberation Sans", "labelFontSize": 25, "labelColor": "black", "labelOffset": 14, "labelLimit": 400, "rowPadding": 3.6, "padding": 0}}}}
]},
{"width": 1, "height": 128.4, "data": {"values": [{}]}, "mark": {"type": "text", "text": ""}, "encoding": {}},
{"width": 771, "height": 183.8,
"layer": [
{"data": {"name": "bands"}, "mark": {"type": "rect", "color": "#FDE6A0"}, "encoding": {"x": {"field": "s", "type": "quantitative", "scale": {"domain": [-34.3, 179.4], "nice": false, "zero": false}, "axis": null}, "x2": {"field": "e"}}},
{"data": {"values": [{}]}, "mark": {"type": "rule", "color": "black", "strokeWidth": 5}, "encoding": {"x": {"datum": -48.4, "type": "quantitative", "scale": {"domain": [-34.3, 179.4], "nice": false, "zero": false}, "axis": null}, "y": {"datum": 200, "type": "quantitative", "scale": {"domain": [187.8, 350], "nice": false, "zero": false}}, "y2": {"datum": 350}}},
{"data": {"name": "ht_post"}, "mark": {"type": "rule", "color": "#0A0AEB", "strokeWidth": 2}, "encoding": {"x": {"field": "t", "type": "quantitative", "scale": {"domain": [-34.3, 179.4], "nice": false, "zero": false}, "axis": null}, "y": {"field": "v", "type": "quantitative", "scale": {"domain": [187.8, 350], "nice": false, "zero": false}, "axis": {"values": [200, 250, 300, 350], "labelExpr": "datum.value == 200 ? '' : datum.label", "domain": false, "offset": 51, "tickSize": 10, "tickWidth": 5, "tickColor": "black", "labelFont": "Liberation Sans", "labelFontSize": 38, "labelColor": "black", "labelPadding": 2, "labelOverlap": false, "title": null}}, "y2": {"field": "e"}}},
{"data": {"name": "ht_post"}, "mark": {"type": "tick", "orient": "horizontal", "size": 18, "thickness": 2, "color": "#0A0AEB", "opacity": 1}, "encoding": {"x": {"field": "t", "type": "quantitative", "scale": {"domain": [-34.3, 179.4], "nice": false, "zero": false}, "axis": null}, "y": {"field": "e", "type": "quantitative", "scale": {"domain": [187.8, 350], "nice": false, "zero": false}}}},
{"data": {"name": "ht_post"}, "mark": {"type": "line", "color": "#0A0AEB", "strokeWidth": 2}, "encoding": {"x": {"field": "t", "type": "quantitative", "scale": {"domain": [-34.3, 179.4], "nice": false, "zero": false}, "axis": null}, "y": {"field": "v", "type": "quantitative", "scale": {"domain": [187.8, 350], "nice": false, "zero": false}}}},
{"data": {"name": "ht_post"}, "mark": {"type": "point", "filled": true, "stroke": "#0A0AEB", "strokeWidth": 2.5, "size": 255, "opacity": 1}, "encoding": {"x": {"field": "t", "type": "quantitative", "scale": {"domain": [-34.3, 179.4], "nice": false, "zero": false}, "axis": null}, "y": {"field": "v", "type": "quantitative", "scale": {"domain": [187.8, 350], "nice": false, "zero": false}}, "fill": {"field": "series", "type": "nominal", "scale": {"domain": ["5-HT pre-SCH", "5-HT post-SCH"], "range": ["white", "#0A0AEB"]}, "legend": {"title": null, "orient": "none", "legendX": 516, "legendY": -59.4, "symbolType": "M-1,0L-0.36,0M0.36,0L1,0M0.36,0A0.36,0.36,0,1,1,-0.36,0A0.36,0.36,0,1,1,0.36,0", "symbolSize": 1296, "symbolStrokeColor": "#0A0AEB", "symbolStrokeWidth": 2.5, "labelFont": "Liberation Sans", "labelFontSize": 25, "labelColor": "black", "labelOffset": 14, "labelLimit": 400, "rowPadding": 5.4, "padding": 0}}}}
]},
{"width": 771, "height": 227.8,
"layer": [
{"data": {"name": "bands"}, "mark": {"type": "rect", "color": "#FDE6A0"}, "encoding": {"x": {"field": "s", "type": "quantitative", "scale": {"domain": [-34.3, 179.4], "nice": false, "zero": false}}, "x2": {"field": "e"}}},
{"data": {"values": [{}]}, "mark": {"type": "rule", "color": "black", "strokeWidth": 2.5, "strokeDash": [2, 3]}, "encoding": {"x": {"datum": -46.5, "type": "quantitative", "scale": {"domain": [-34.3, 179.4], "nice": false, "zero": false}}, "x2": {"datum": 179.4}, "y": {"datum": 100, "type": "quantitative", "scale": {"domain": [23.1, 158.2], "nice": false, "zero": false}}}},
{"data": {"values": [{}]}, "mark": {"type": "rule", "color": "black", "strokeWidth": 5}, "encoding": {"x": {"datum": -48.4, "type": "quantitative", "scale": {"domain": [-34.3, 179.4], "nice": false, "zero": false}}, "y": {"datum": 50, "type": "quantitative", "scale": {"domain": [23.1, 158.2], "nice": false, "zero": false}}, "y2": {"datum": 150}}},
{"data": {"name": "ht_pre"}, "mark": {"type": "rule", "color": "#0A0AEB", "strokeWidth": 2}, "encoding": {"x": {"field": "t", "type": "quantitative", "scale": {"domain": [-34.3, 179.4], "nice": false, "zero": false}, "axis": {"values": [0, 30, 60, 90, 120, 150], "domainWidth": 6, "domainColor": "black", "tickSize": 12, "tickWidth": 4, "tickColor": "black", "labelFont": "Liberation Sans", "labelFontSize": 38, "labelColor": "black", "labelPadding": 18, "labelFlush": false, "labelOverlap": false, "labelAngle": 0, "title": "Timecourse (min)", "titleFont": "Liberation Sans", "titleFontSize": 45, "titleFontWeight": "normal", "titleColor": "black", "titleX": 348, "titleY": 109, "titleBaseline": "alphabetic"}}, "y": {"field": "v", "type": "quantitative", "scale": {"domain": [23.1, 158.2], "nice": false, "zero": false}, "axis": {"values": [50, 100, 150], "domain": false, "offset": 51, "tickSize": 10, "tickWidth": 5, "tickColor": "black", "labelFont": "Liberation Sans", "labelFontSize": 38, "labelColor": "black", "labelPadding": 2, "labelOverlap": false, "title": "Dialysate \u00a0(%Basal)", "titleFont": "Liberation Sans", "titleFontSize": 39, "titleFontWeight": "normal", "titleColor": "black", "titlePadding": 44, "titleY": 0.7}}, "y2": {"field": "e"}}},
{"data": {"name": "ht_pre"}, "mark": {"type": "tick", "orient": "horizontal", "size": 18, "thickness": 2, "color": "#0A0AEB", "opacity": 1}, "encoding": {"x": {"field": "t", "type": "quantitative", "scale": {"domain": [-34.3, 179.4], "nice": false, "zero": false}}, "y": {"field": "e", "type": "quantitative", "scale": {"domain": [23.1, 158.2], "nice": false, "zero": false}}}},
{"data": {"name": "ht_pre"}, "mark": {"type": "line", "color": "#0A0AEB", "strokeWidth": 2}, "encoding": {"x": {"field": "t", "type": "quantitative", "scale": {"domain": [-34.3, 179.4], "nice": false, "zero": false}}, "y": {"field": "v", "type": "quantitative", "scale": {"domain": [23.1, 158.2], "nice": false, "zero": false}}}},
{"data": {"name": "ht_pre"}, "mark": {"type": "point", "filled": true, "fill": "white", "stroke": "#0A0AEB", "strokeWidth": 2.5, "size": 255, "opacity": 1}, "encoding": {"x": {"field": "t", "type": "quantitative", "scale": {"domain": [-34.3, 179.4], "nice": false, "zero": false}}, "y": {"field": "v", "type": "quantitative", "scale": {"domain": [23.1, 158.2], "nice": false, "zero": false}}}}
]}
], "spacing": 0, "bounds": "flush", "resolve": {"scale": {"fill": "independent"}}}
], "spacing": 49, "resolve": {"scale": {"fill": "independent"}}},
{"vconcat": [
{"width": 1, "height": 38.4, "data": {"values": [{}]}, "mark": {"type": "text", "text": ""}, "encoding": {}},
{"width": 236, "height": 357,
"title": {"text": "C", "anchor": "start", "frame": "group", "font": "Liberation Sans", "fontSize": 46, "fontWeight": "bold", "color": "black", "baseline": "alphabetic", "offset": -6.4, "dx": -270},
"layer": [
{"data": {"values": [{"cond": "Pre", "v": 343}]}, "mark": {"type": "bar", "fill": "white", "stroke": "#7F0041", "strokeWidth": 5}, "encoding": {"x": {"field": "cond", "type": "nominal", "scale": {"type": "band", "domain": ["Pre", "Post"], "paddingInner": 0.339, "paddingOuter": 0.252, "align": 0.873}, "axis": null}, "y": {"field": "v", "type": "quantitative", "scale": {"domain": [0, 750], "nice": false}, "axis": {"values": [0, 250, 500, 750], "offset": 15, "domainWidth": 5, "domainColor": "black", "tickSize": 10, "tickWidth": 5, "tickColor": "black", "labelFont": "DejaVu Sans", "labelFontSize": 33, "labelColor": "black", "labelPadding": 4, "title": "Dopamine AUC (%)", "titleFont": "Liberation Sans", "titleFontSize": 42, "titleFontWeight": "normal", "titleColor": "black", "titlePadding": 52, "titleY": 163}}}},
{"data": {"values": [{"cond": "Post", "v": 381}]}, "mark": {"type": "bar", "fill": "#7F0041"}, "encoding": {"x": {"field": "cond", "type": "nominal", "scale": {"type": "band", "domain": ["Pre", "Post"], "paddingInner": 0.339, "paddingOuter": 0.252, "align": 0.873}, "axis": null}, "y": {"field": "v", "type": "quantitative", "scale": {"domain": [0, 750], "nice": false}}}},
{"data": {"values": [{"cond": "Pre", "v": 343, "e": 445}, {"cond": "Post", "v": 381, "e": 466}]}, "mark": {"type": "rule", "color": "#7F0041", "strokeWidth": 4}, "encoding": {"x": {"field": "cond", "type": "nominal", "scale": {"type": "band", "domain": ["Pre", "Post"], "paddingInner": 0.339, "paddingOuter": 0.252, "align": 0.873}, "axis": null}, "y": {"field": "v", "type": "quantitative", "scale": {"domain": [0, 750], "nice": false}}, "y2": {"field": "e"}}},
{"data": {"values": [{"cond": "Pre", "e": 445}, {"cond": "Post", "e": 466}]}, "mark": {"type": "tick", "orient": "horizontal", "size": 40, "thickness": 4, "color": "#7F0041", "opacity": 1}, "encoding": {"x": {"field": "cond", "type": "nominal", "scale": {"type": "band", "domain": ["Pre", "Post"], "paddingInner": 0.339, "paddingOuter": 0.252, "align": 0.873}, "axis": null}, "y": {"field": "e", "type": "quantitative", "scale": {"domain": [0, 750], "nice": false}}}},
{"data": {"values": [{"id": 1, "cond": "Pre", "v": 559}, {"id": 1, "cond": "Post", "v": 599}, {"id": 2, "cond": "Pre", "v": 475}, {"id": 2, "cond": "Post", "v": 424}, {"id": 3, "cond": "Pre", "v": 201}, {"id": 3, "cond": "Post", "v": 233}, {"id": 4, "cond": "Pre", "v": 158}, {"id": 4, "cond": "Post", "v": 273}]}, "mark": {"type": "line", "color": "black", "strokeWidth": 3}, "encoding": {"x": {"field": "cond", "type": "nominal", "scale": {"type": "band", "domain": ["Pre", "Post"], "paddingInner": 0.339, "paddingOuter": 0.252, "align": 0.873}, "axis": null}, "y": {"field": "v", "type": "quantitative", "scale": {"domain": [0, 750], "nice": false}}, "detail": {"field": "id", "type": "nominal"}}},
{"data": {"values": [{"id": 1, "cond": "Pre", "v": 559}, {"id": 1, "cond": "Post", "v": 599}, {"id": 2, "cond": "Pre", "v": 475}, {"id": 2, "cond": "Post", "v": 424}, {"id": 3, "cond": "Pre", "v": 201}, {"id": 3, "cond": "Post", "v": 233}, {"id": 4, "cond": "Pre", "v": 158}, {"id": 4, "cond": "Post", "v": 273}]}, "mark": {"type": "point", "filled": true, "fill": "white", "stroke": "black", "strokeWidth": 3, "size": 530, "opacity": 1}, "encoding": {"x": {"field": "cond", "type": "nominal", "scale": {"type": "band", "domain": ["Pre", "Post"], "paddingInner": 0.339, "paddingOuter": 0.252, "align": 0.873}, "axis": null}, "y": {"field": "v", "type": "quantitative", "scale": {"domain": [0, 750], "nice": false}}}}
]},
{"width": 1, "height": 190, "data": {"values": [{}]}, "mark": {"type": "text", "text": ""}, "encoding": {}},
{"width": 236, "height": 356.7,
"layer": [
{"data": {"values": [{"cond": "Pre", "v": 273}]}, "mark": {"type": "bar", "fill": "white", "stroke": "#F5177F", "strokeWidth": 5}, "encoding": {"x": {"field": "cond", "type": "nominal", "scale": {"type": "band", "domain": ["Pre", "Post"], "paddingInner": 0.354, "paddingOuter": 0.221, "align": 0.96}, "axis": null}, "y": {"field": "v", "type": "quantitative", "scale": {"domain": [0, 600], "nice": false}, "axis": {"values": [0, 200, 400, 600], "offset": 14, "domainWidth": 5, "domainColor": "black", "tickSize": 10, "tickWidth": 5, "tickColor": "black", "labelFont": "DejaVu Sans", "labelFontSize": 33, "labelColor": "black", "labelPadding": 4, "title": "3-MT AUC (%)", "titleFont": "Liberation Sans", "titleFontSize": 42, "titleFontWeight": "normal", "titleColor": "black", "titlePadding": 53, "titleY": 162}}}},
{"data": {"values": [{"cond": "Post", "v": 353}]}, "mark": {"type": "bar", "fill": "#FF3385"}, "encoding": {"x": {"field": "cond", "type": "nominal", "scale": {"type": "band", "domain": ["Pre", "Post"], "paddingInner": 0.354, "paddingOuter": 0.221, "align": 0.96}, "axis": null}, "y": {"field": "v", "type": "quantitative", "scale": {"domain": [0, 600], "nice": false}}}},
{"data": {"values": [{"cond": "Pre", "v": 273, "e": 344}, {"cond": "Post", "v": 353, "e": 432}]}, "mark": {"type": "rule", "color": "#FF3385", "strokeWidth": 4}, "encoding": {"x": {"field": "cond", "type": "nominal", "scale": {"type": "band", "domain": ["Pre", "Post"], "paddingInner": 0.354, "paddingOuter": 0.221, "align": 0.96}, "axis": null}, "y": {"field": "v", "type": "quantitative", "scale": {"domain": [0, 600], "nice": false}}, "y2": {"field": "e"}}},
{"data": {"values": [{"cond": "Pre", "e": 344}, {"cond": "Post", "e": 432}]}, "mark": {"type": "tick", "orient": "horizontal", "size": 40, "thickness": 4, "color": "#FF3385", "opacity": 1}, "encoding": {"x": {"field": "cond", "type": "nominal", "scale": {"type": "band", "domain": ["Pre", "Post"], "paddingInner": 0.354, "paddingOuter": 0.221, "align": 0.96}, "axis": null}, "y": {"field": "e", "type": "quantitative", "scale": {"domain": [0, 600], "nice": false}}}},
{"data": {"values": [{"id": 1, "cond": "Pre", "v": 452}, {"id": 1, "cond": "Post", "v": 547}, {"id": 2, "cond": "Pre", "v": 307}, {"id": 2, "cond": "Post", "v": 335}, {"id": 3, "cond": "Pre", "v": 211}, {"id": 3, "cond": "Post", "v": 363}, {"id": 4, "cond": "Pre", "v": 132}, {"id": 4, "cond": "Post", "v": 177}]}, "mark": {"type": "line", "color": "black", "strokeWidth": 3}, "encoding": {"x": {"field": "cond", "type": "nominal", "scale": {"type": "band", "domain": ["Pre", "Post"], "paddingInner": 0.354, "paddingOuter": 0.221, "align": 0.96}, "axis": null}, "y": {"field": "v", "type": "quantitative", "scale": {"domain": [0, 600], "nice": false}}, "detail": {"field": "id", "type": "nominal"}}},
{"data": {"values": [{"id": 1, "cond": "Pre", "v": 452}, {"id": 1, "cond": "Post", "v": 547}, {"id": 2, "cond": "Pre", "v": 307}, {"id": 2, "cond": "Post", "v": 335}, {"id": 3, "cond": "Pre", "v": 211}, {"id": 3, "cond": "Post", "v": 363}, {"id": 4, "cond": "Pre", "v": 132}, {"id": 4, "cond": "Post", "v": 177}]}, "mark": {"type": "point", "filled": true, "fill": "white", "stroke": "black", "strokeWidth": 3, "size": 530, "opacity": 1}, "encoding": {"x": {"field": "cond", "type": "nominal", "scale": {"type": "band", "domain": ["Pre", "Post"], "paddingInner": 0.354, "paddingOuter": 0.221, "align": 0.96}, "axis": null}, "y": {"field": "v", "type": "quantitative", "scale": {"domain": [0, 600], "nice": false}}}}
]},
{"width": 1, "height": 198.3, "data": {"values": [{}]}, "mark": {"type": "text", "text": ""}, "encoding": {}},
{"width": 223, "height": 340,
"layer": [
{"data": {"values": [{"cond": "Pre", "v": 284}]}, "mark": {"type": "bar", "fill": "white", "stroke": "#0A0AEB", "strokeWidth": 5}, "encoding": {"x": {"field": "cond", "type": "nominal", "scale": {"type": "band", "domain": ["Pre", "Post"], "paddingInner": 0.36, "paddingOuter": 0.252, "align": 0.63}, "axis": {"domainWidth": 5, "domainColor": "black", "ticks": false, "tickSize": 0, "labelFont": "Liberation Sans", "labelFontSize": 36, "labelColor": "black", "labelPadding": 16, "labelAngle": 0, "offset": 42, "title": null}}, "y": {"field": "v", "type": "quantitative", "scale": {"domain": [0, 600], "nice": false}, "axis": {"values": [0, 200, 400, 600], "offset": 30, "domainWidth": 5, "domainColor": "black", "tickSize": 10, "tickWidth": 5, "tickColor": "black", "labelFont": "DejaVu Sans", "labelFontSize": 33, "labelColor": "black", "labelPadding": 4, "title": "Serotonin AUC (%)", "titleFont": "Liberation Sans", "titleFontSize": 42, "titleFontWeight": "normal", "titleColor": "black", "titlePadding": 38, "titleY": 156}}}},
{"data": {"values": [{"cond": "Post", "v": 247}]}, "mark": {"type": "bar", "fill": "#0A0AEB"}, "encoding": {"x": {"field": "cond", "type": "nominal", "scale": {"type": "band", "domain": ["Pre", "Post"], "paddingInner": 0.36, "paddingOuter": 0.252, "align": 0.63}}, "y": {"field": "v", "type": "quantitative", "scale": {"domain": [0, 600], "nice": false}}}},
{"data": {"values": [{"cond": "Pre", "v": 284, "e": 368}, {"cond": "Post", "v": 247, "e": 281}]}, "mark": {"type": "rule", "color": "#0A0AEB", "strokeWidth": 4}, "encoding": {"x": {"field": "cond", "type": "nominal", "scale": {"type": "band", "domain": ["Pre", "Post"], "paddingInner": 0.36, "paddingOuter": 0.252, "align": 0.63}}, "y": {"field": "v", "type": "quantitative", "scale": {"domain": [0, 600], "nice": false}}, "y2": {"field": "e"}}},
{"data": {"values": [{"cond": "Pre", "e": 368}, {"cond": "Post", "e": 281}]}, "mark": {"type": "tick", "orient": "horizontal", "size": 40, "thickness": 4, "color": "#0A0AEB", "opacity": 1}, "encoding": {"x": {"field": "cond", "type": "nominal", "scale": {"type": "band", "domain": ["Pre", "Post"], "paddingInner": 0.36, "paddingOuter": 0.252, "align": 0.63}}, "y": {"field": "e", "type": "quantitative", "scale": {"domain": [0, 600], "nice": false}}}},
{"data": {"values": [{"id": 1, "cond": "Pre", "v": 520}, {"id": 1, "cond": "Post", "v": 239}, {"id": 2, "cond": "Pre", "v": 269}, {"id": 2, "cond": "Post", "v": 289}, {"id": 3, "cond": "Pre", "v": 204}, {"id": 3, "cond": "Post", "v": 309}, {"id": 4, "cond": "Pre", "v": 159}, {"id": 4, "cond": "Post", "v": 157}]}, "mark": {"type": "line", "color": "black", "strokeWidth": 3}, "encoding": {"x": {"field": "cond", "type": "nominal", "scale": {"type": "band", "domain": ["Pre", "Post"], "paddingInner": 0.36, "paddingOuter": 0.252, "align": 0.63}}, "y": {"field": "v", "type": "quantitative", "scale": {"domain": [0, 600], "nice": false}}, "detail": {"field": "id", "type": "nominal"}}},
{"data": {"values": [{"id": 1, "cond": "Pre", "v": 520}, {"id": 1, "cond": "Post", "v": 239}, {"id": 2, "cond": "Pre", "v": 269}, {"id": 2, "cond": "Post", "v": 289}, {"id": 3, "cond": "Pre", "v": 204}, {"id": 3, "cond": "Post", "v": 309}, {"id": 4, "cond": "Pre", "v": 159}, {"id": 4, "cond": "Post", "v": 157}]}, "mark": {"type": "point", "filled": true, "fill": "white", "stroke": "black", "strokeWidth": 3, "size": 530, "opacity": 1}, "encoding": {"x": {"field": "cond", "type": "nominal", "scale": {"type": "band", "domain": ["Pre", "Post"], "paddingInner": 0.36, "paddingOuter": 0.252, "align": 0.63}}, "y": {"field": "v", "type": "quantitative", "scale": {"domain": [0, 600], "nice": false}}}}
]}
], "spacing": 0, "bounds": "flush"}
],
"spacing": 9, "resolve": {"scale": {"fill": "independent"}}
}
